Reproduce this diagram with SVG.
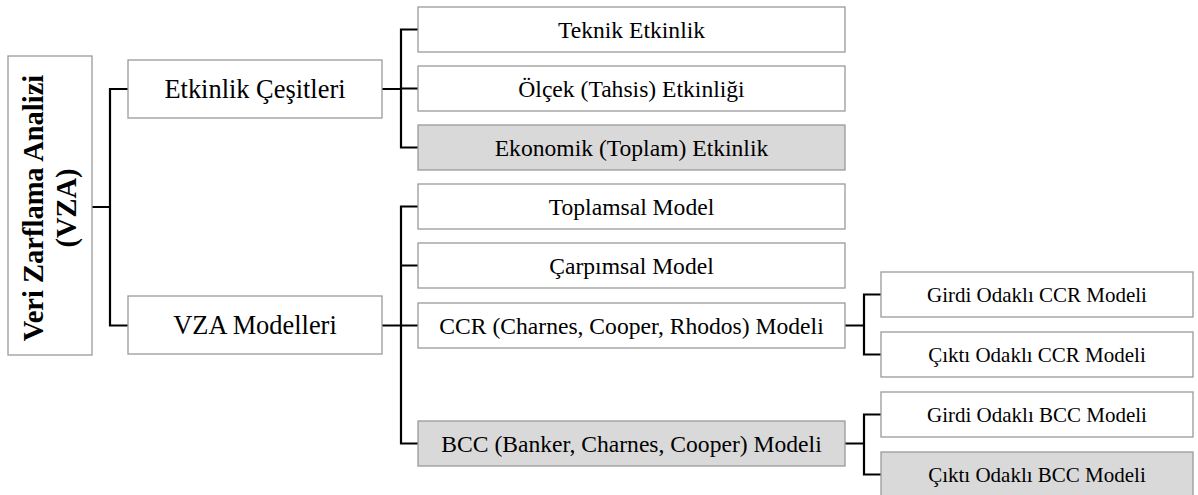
<svg xmlns="http://www.w3.org/2000/svg" width="1198" height="495" viewBox="0 0 1198 495">
  <style>
    .box { fill: #ffffff; stroke: #9a9a9a; stroke-width: 1.3; }
    .shaded { fill: #d9d9d9; }
    .lbl { font-family: "Liberation Serif", "Times New Roman", serif; fill: #000000; text-anchor: middle; }
    .l1 { font-size: 26.4px; }
    .l2 { font-size: 23.6px; }
    .l3 { font-size: 21px; }
    .root { font-size: 28.5px; font-weight: bold; }
    .conn { fill: none; stroke: #000000; stroke-width: 2.2; stroke-linecap: square; stroke-linejoin: miter; }
  </style>

  <!-- connectors -->
  <g id="connectors" class="conn">
    <path d="M92,207 H110 M110,89 V325.5 M110,89 H128 M110,325.5 H128"/>
    <path d="M382,89 H401 M401,29.5 V147.5 M401,29.5 H418 M401,88.5 H418 M401,147.5 H418"/>
    <path d="M382,325.5 H401 M401,206.5 V443.5 M401,206.5 H418 M401,265.5 H418 M401,325.5 H418 M401,443.5 H418"/>
    <path d="M845,325.5 H864 M864,294.5 V354.5 M864,294.5 H881 M864,354.5 H881"/>
    <path d="M845,443.5 H864 M864,414.5 V474.5 M864,414.5 H881 M864,474.5 H881"/>
  </g>

  <!-- root -->
  <g id="vza">
    <rect class="box" x="8" y="56" width="84" height="299"/>
    <text class="lbl root" transform="translate(43,208) rotate(-90)">Veri Zarflama Analizi</text>
    <text class="lbl root" transform="translate(76,208) rotate(-90)">(VZA)</text>
  </g>

  <!-- first level -->
  <g id="etkinlik-cesitleri">
    <rect class="box" x="128" y="60" width="254" height="58"/>
    <text class="lbl l1" x="255" y="98">Etkinlik Çeşitleri</text>
  </g>
  <g id="vza-modelleri">
    <rect class="box" x="128" y="296" width="254" height="58"/>
    <text class="lbl l1" x="255" y="334">VZA Modelleri</text>
  </g>

  <!-- efficiency types -->
  <g id="teknik">
    <rect class="box" x="418" y="7" width="427" height="45"/>
    <text class="lbl l2" x="631.5" y="37.5">Teknik Etkinlik</text>
  </g>
  <g id="olcek">
    <rect class="box" x="418" y="66" width="427" height="45"/>
    <text class="lbl l2" x="631.5" y="96.5">Ölçek (Tahsis) Etkinliği</text>
  </g>
  <g id="ekonomik">
    <rect class="box shaded" x="418" y="125" width="427" height="45"/>
    <text class="lbl l2" x="631.5" y="155.5">Ekonomik (Toplam) Etkinlik</text>
  </g>

  <!-- model types -->
  <g id="toplamsal">
    <rect class="box" x="418" y="184" width="427" height="45"/>
    <text class="lbl l2" x="631.5" y="214.5">Toplamsal Model</text>
  </g>
  <g id="carpimsal">
    <rect class="box" x="418" y="243" width="427" height="45"/>
    <text class="lbl l2" x="631.5" y="273.5">Çarpımsal Model</text>
  </g>
  <g id="ccr">
    <rect class="box" x="418" y="303" width="427" height="45"/>
    <text class="lbl l2" x="631.5" y="333.5">CCR (Charnes, Cooper, Rhodos) Modeli</text>
  </g>
  <g id="bcc">
    <rect class="box shaded" x="418" y="421" width="427" height="45"/>
    <text class="lbl l2" x="631.5" y="451.5">BCC (Banker, Charnes, Cooper) Modeli</text>
  </g>

  <!-- orientations -->
  <g id="ccr-girdi">
    <rect class="box" x="881" y="272" width="312" height="45"/>
    <text class="lbl l3" x="1037" y="301.5">Girdi Odaklı CCR Modeli</text>
  </g>
  <g id="ccr-cikti">
    <rect class="box" x="881" y="332" width="312" height="45"/>
    <text class="lbl l3" x="1037" y="361.5">Çıktı Odaklı CCR Modeli</text>
  </g>
  <g id="bcc-girdi">
    <rect class="box" x="881" y="392" width="312" height="45"/>
    <text class="lbl l3" x="1037" y="421.5">Girdi Odaklı BCC Modeli</text>
  </g>
  <g id="bcc-cikti">
    <rect class="box shaded" x="881" y="452" width="312" height="45"/>
    <text class="lbl l3" x="1037" y="481.5">Çıktı Odaklı BCC Modeli</text>
  </g>
</svg>
